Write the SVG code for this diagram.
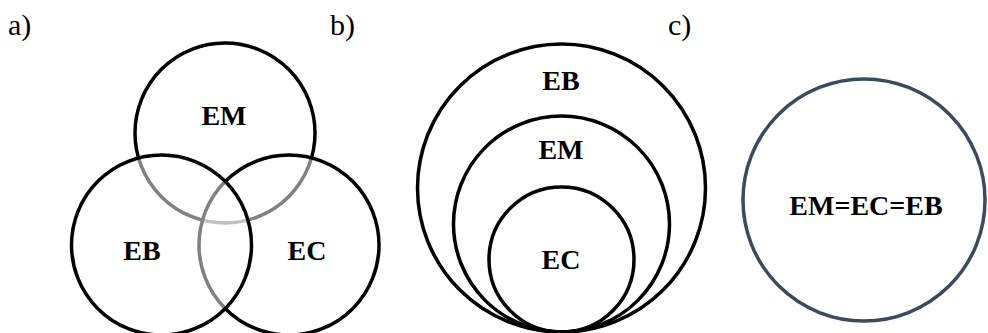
<svg xmlns="http://www.w3.org/2000/svg" width="988" height="333" viewBox="0 0 988 333">
<style>
.c{fill:none;stroke:#000;stroke-width:3.5}
.veil{fill:#fff;fill-opacity:0.5;stroke:#000;stroke-width:3.5}
.lbl{font-family:"Liberation Serif","DejaVu Serif","Times New Roman",Times,serif;font-size:30px;fill:#000}
.t{font-family:"Liberation Serif","DejaVu Serif","Times New Roman",Times,serif;font-size:28px;font-weight:700;fill:#000;text-anchor:middle}
</style>
<rect width="988" height="333" fill="#fff"/>
<text class="lbl" x="8" y="35">a)</text>
<text class="lbl" x="330" y="35">b)</text>
<text class="lbl" x="668" y="35">c)</text>
<g id="venn-a">
<g id="node-EM-a"><circle class="c" cx="225" cy="133" r="90"/></g>
<g id="node-EC-a"><circle class="veil" cx="289" cy="245" r="90"/></g>
<g id="node-EB-a"><circle class="veil" cx="161.5" cy="245" r="90"/></g>
<text class="t" x="224" y="125">EM</text>
<text class="t" x="142" y="260">EB</text>
<text class="t" x="307" y="260">EC</text>
</g>
<g id="nested-b">
<g id="node-EB-b"><circle class="c" cx="561.5" cy="188" r="144"/></g>
<g id="node-EM-b"><circle class="c" cx="561.5" cy="224" r="108"/></g>
<g id="node-EC-b"><circle class="c" cx="561.5" cy="259.5" r="72.5"/></g>
<text class="t" x="561" y="90">EB</text>
<text class="t" x="561" y="159">EM</text>
<text class="t" x="561" y="269">EC</text>
</g>
<g id="node-c">
<circle cx="864" cy="200" r="121" fill="none" stroke="#3e4a5c" stroke-width="3.5"/>
<text class="t" x="866" y="215">EM=EC=EB</text>
</g>
<g id="connectors"/>
</svg>
